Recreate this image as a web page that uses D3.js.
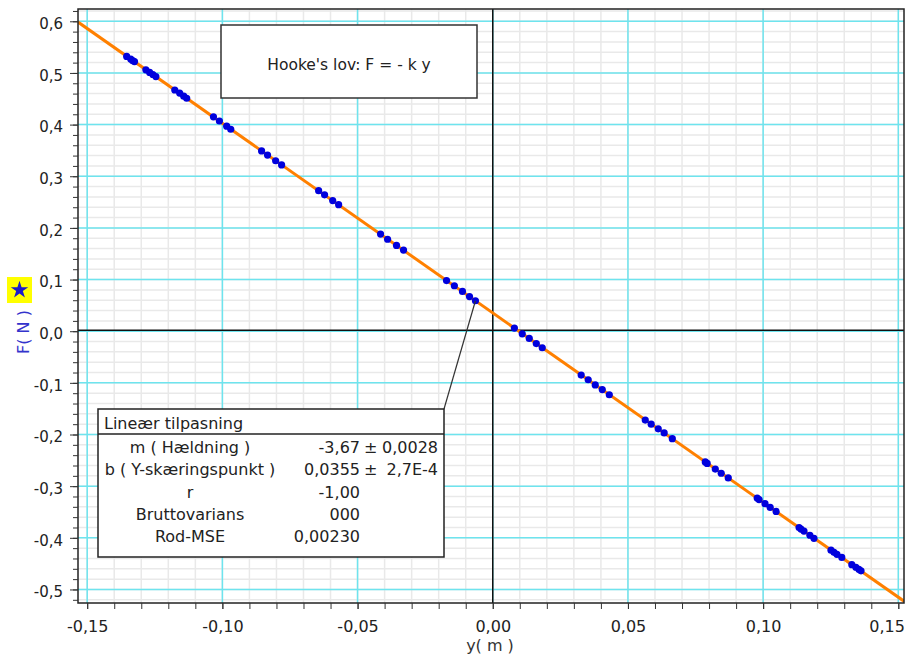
<!DOCTYPE html>
<html>
<head>
<meta charset="utf-8">
<script src="https://cdn.jsdelivr.net/npm/d3@7"></script>
<style>
  body { margin: 0; background: #fff; }
  svg { display: block; font-family: "DejaVu Sans", sans-serif; }
  .tick line { stroke: #333; }
</style>
</head>
<body>
<div id="chart"></div>
<script>
// displacement y (m) and force F (N)
var displacement = [
  -0.1354, -0.1339, -0.1332, -0.1325,
  -0.1283, -0.1269, -0.1257, -0.1246,
  -0.1176, -0.1158, -0.1143, -0.1132,
  -0.1033, -0.1011, -0.0984, -0.0969,
  -0.0855, -0.0833, -0.0803, -0.0781,
  -0.0644, -0.0622, -0.0592, -0.0570,
  -0.0415, -0.0389, -0.0356, -0.0330,
  -0.0171, -0.0142, -0.0112, -0.0086, -0.0064,
  0.0080, 0.0109, 0.0135, 0.0161, 0.0183,
  0.0327, 0.0353, 0.0379, 0.0405, 0.0431,
  0.0564, 0.0586, 0.0612, 0.0634, 0.0664,
  0.0786, 0.0793, 0.0823, 0.0845, 0.0871,
  0.0978, 0.0985, 0.1007, 0.1026, 0.1048,
  0.1133, 0.1140, 0.1151, 0.1173, 0.1188,
  0.1251, 0.1262, 0.1273, 0.1291,
  0.1328, 0.1343, 0.1354, 0.1362
];
var force = [
  0.532, 0.527, 0.524, 0.522,
  0.506, 0.501, 0.497, 0.493,
  0.467, 0.461, 0.455, 0.451,
  0.415, 0.407, 0.397, 0.391,
  0.349, 0.341, 0.330, 0.322,
  0.272, 0.264, 0.253, 0.245,
  0.188, 0.178, 0.166, 0.157,
  0.098, 0.088, 0.077, 0.067, 0.059,
  0.006, -0.005, -0.014, -0.024, -0.032,
  -0.085, -0.094, -0.104, -0.113, -0.123,
  -0.172, -0.180, -0.189, -0.197, -0.208,
  -0.253, -0.256, -0.267, -0.275, -0.284,
  -0.323, -0.326, -0.334, -0.341, -0.349,
  -0.380, -0.383, -0.387, -0.395, -0.401,
  -0.424, -0.428, -0.432, -0.438,
  -0.452, -0.457, -0.461, -0.464
];

var xTicks = [-0.15, -0.10, -0.05, 0.00, 0.05, 0.10, 0.15];
var yTicks = [-0.5, -0.4, -0.3, -0.2, -0.1, 0.0, 0.1, 0.2, 0.3, 0.4, 0.5, 0.6];

// fit result (Lineær tilpasning)
var fitSlope = -3.67;
var fitIntercept = 0.0355;
var statNames = ["m ( Hældning )", "b ( Y-skæringspunkt )", "r", "Bruttovarians", "Rod-MSE"];
var statValues = ["-3,67", "0,0355", "-1,00", "000", "0,00230"];
var statErrors = ["0,0028", "2,7E-4", "", "", ""];

var W = 906, H = 656;
var pLeft = 78, pRight = 904, pTop = 9, pBottom = 603;

var x = d3.scaleLinear().domain([-0.1534, 0.1521]).range([pLeft, pRight]);
var y = d3.scaleLinear().domain([-0.5262, 0.6238]).range([pBottom, pTop]);

var loc = d3.formatLocale({decimal: ",", thousands: ".", grouping: [3], currency: ["", ""], minus: "-"});
var fx = loc.format(".2f"), fy = loc.format(".1f");

var svg = d3.select("#chart").append("svg")
  .attr("width", W)
  .attr("height", H);

svg.append("rect").attr("width", W).attr("height", H).attr("fill", "#fff");

var xMinor = d3.range(-0.15, 0.1501, 0.01);
var yMinor = d3.range(-0.52, 0.6201, 0.02);

// minor grid
svg.append("g").selectAll("line").data(xMinor).enter().append("line")
  .attr("x1", d => x(d)).attr("x2", d => x(d))
  .attr("y1", pTop).attr("y2", pBottom)
  .attr("stroke", "#e9e9e9").attr("stroke-width", 1.5);
svg.append("g").selectAll("line").data(yMinor).enter().append("line")
  .attr("x1", pLeft).attr("x2", pRight)
  .attr("y1", d => y(d)).attr("y2", d => y(d))
  .attr("stroke", "#e9e9e9").attr("stroke-width", 1.5);

// major grid (cyan)
svg.append("g").selectAll("line").data(xTicks).enter().append("line")
  .attr("x1", d => x(d)).attr("x2", d => x(d))
  .attr("y1", pTop).attr("y2", pBottom)
  .attr("stroke", "#6ee4ee").attr("stroke-width", 1.5);
svg.append("g").selectAll("line").data(yTicks).enter().append("line")
  .attr("x1", pLeft).attr("x2", pRight)
  .attr("y1", d => y(d)).attr("y2", d => y(d))
  .attr("stroke", "#6ee4ee").attr("stroke-width", 1.5);

// zero lines
svg.append("line")
  .attr("x1", x(0)).attr("x2", x(0)).attr("y1", pTop).attr("y2", pBottom)
  .attr("stroke", "#111").attr("stroke-width", 1.5);
svg.append("line")
  .attr("x1", pLeft).attr("x2", pRight).attr("y1", y(0) - 1).attr("y2", y(0) - 1)
  .attr("stroke", "#111").attr("stroke-width", 1.5);

// fit line, clipped to the plot
svg.append("clipPath").attr("id", "plotclip").append("rect")
  .attr("x", pLeft).attr("y", pTop).attr("width", pRight - pLeft).attr("height", pBottom - pTop);
var xd = x.domain();
svg.append("line")
  .attr("clip-path", "url(#plotclip)")
  .attr("x1", x(xd[0])).attr("y1", y(fitSlope * xd[0] + fitIntercept))
  .attr("x2", x(xd[1])).attr("y2", y(fitSlope * xd[1] + fitIntercept))
  .attr("stroke", "#ff8000").attr("stroke-width", 3);

// data points
svg.append("g").selectAll("circle").data(displacement).enter().append("circle")
  .attr("cx", d => x(d))
  .attr("cy", (d, i) => y(force[i]))
  .attr("r", 3.6)
  .attr("fill", "#0000dd");

// plot frame
svg.append("rect")
  .attr("x", pLeft).attr("y", pTop).attr("width", pRight - pLeft).attr("height", pBottom - pTop)
  .attr("fill", "none").attr("stroke", "#222").attr("stroke-width", 1.5);

// axes
var xAxis = svg.append("g").attr("transform", "translate(0," + pBottom + ")")
  .call(d3.axisBottom(x).tickValues(xTicks).tickFormat(fx).tickSize(6));
xAxis.select(".domain").remove();
xAxis.selectAll("text").attr("y", 29).attr("dy", 0)
  .attr("font-size", 16).attr("fill", "#222").attr("font-family", "DejaVu Sans");
xAxis.selectAll(".tick").filter(d => d === 0.15).select("text")
  .attr("text-anchor", "end").attr("x", 6);
var xAxisMinor = svg.append("g").attr("transform", "translate(0," + pBottom + ")")
  .call(d3.axisBottom(x).tickValues(xMinor).tickFormat("").tickSize(6));
xAxisMinor.select(".domain").remove();

var yAxis = svg.append("g").attr("transform", "translate(" + pLeft + ",0)")
  .call(d3.axisLeft(y).tickValues(yTicks).tickFormat(fy).tickSize(8).tickPadding(7));
yAxis.select(".domain").remove();
yAxis.selectAll("text").attr("dy", "0.48em")
  .attr("font-size", 15).attr("fill", "#222").attr("font-family", "DejaVu Sans");
var yAxisMinor = svg.append("g").attr("transform", "translate(" + pLeft + ",0)")
  .call(d3.axisLeft(y).tickValues(yMinor).tickFormat("").tickSize(5));
yAxisMinor.select(".domain").remove();

// axis titles
svg.append("text")
  .attr("x", 490).attr("y", 651)
  .attr("text-anchor", "middle")
  .attr("font-size", 16).attr("fill", "#333")
  .text("y( m )");

svg.append("text")
  .attr("transform", "translate(29,332) rotate(-90)")
  .attr("text-anchor", "middle")
  .attr("font-size", 16).attr("fill", "#3333cc")
  .text("F( N )");

svg.append("rect")
  .attr("x", 7).attr("y", 277).attr("width", 25).attr("height", 26)
  .attr("fill", "#ffff00");
svg.append("path")
  .attr("d", d3.symbol().type(d3.symbolStar).size(95)())
  .attr("transform", "translate(19.5,290)")
  .attr("fill", "#1a1acc");

// Hooke's law note
svg.append("rect")
  .attr("x", 221).attr("y", 25).attr("width", 256).attr("height", 73)
  .attr("fill", "#fff").attr("stroke", "#333").attr("stroke-width", 1.5);
svg.append("text")
  .attr("x", 349).attr("y", 70)
  .attr("text-anchor", "middle")
  .attr("font-size", 15.5).attr("fill", "#222")
  .text("Hooke's lov: F = - k y");

// fit statistics box
var lead = 32; // point the leader line goes to
svg.append("line")
  .attr("x1", 444).attr("y1", 409)
  .attr("x2", x(displacement[lead])).attr("y2", y(force[lead]))
  .attr("stroke", "#333").attr("stroke-width", 1.2);

var box = svg.append("g");
box.append("rect")
  .attr("x", 98).attr("y", 409).attr("width", 346).attr("height", 148)
  .attr("fill", "#fff").attr("stroke", "#222").attr("stroke-width", 1.5);
box.append("line")
  .attr("x1", 98).attr("x2", 444).attr("y1", 434).attr("y2", 434)
  .attr("stroke", "#222").attr("stroke-width", 1.5);
box.append("text")
  .attr("x", 104).attr("y", 429)
  .attr("font-size", 16).attr("fill", "#222")
  .text("Lineær tilpasning");

statNames.forEach(function(name, i) {
  var by = 453 + i * 22.3;
  box.append("text")
    .attr("x", 190).attr("y", by).attr("text-anchor", "middle")
    .attr("font-size", 16).attr("fill", "#222")
    .text(name);
  box.append("text")
    .attr("x", 360).attr("y", by).attr("text-anchor", "end")
    .attr("font-size", 16).attr("fill", "#222")
    .text(statValues[i]);
  if (statErrors[i]) {
    box.append("text")
      .attr("x", 364).attr("y", by)
      .attr("font-size", 16).attr("fill", "#222")
      .text("±");
    box.append("text")
      .attr("x", 438).attr("y", by).attr("text-anchor", "end")
      .attr("font-size", 16).attr("fill", "#222")
      .text(statErrors[i]);
  }
});
</script>
</body>
</html>
